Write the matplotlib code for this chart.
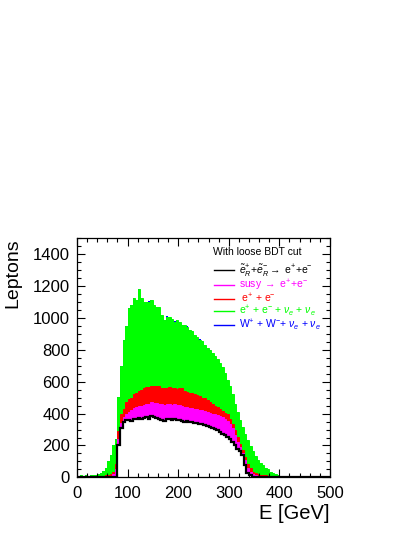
import numpy as np
import matplotlib
matplotlib.use('Agg')
import matplotlib.pyplot as plt
from matplotlib.lines import Line2D
from matplotlib.ticker import MultipleLocator

plt.rcParams['font.family'] = ['Liberation Sans', 'DejaVu Sans']
plt.rcParams['mathtext.fontset'] = 'custom'
plt.rcParams['mathtext.rm'] = 'Liberation Sans'
plt.rcParams['mathtext.it'] = 'Liberation Sans:italic'
plt.rcParams['mathtext.bf'] = 'Liberation Sans:bold'

# --- data: lepton energy, 5 GeV bins from 0 to 500 GeV ---
edges = np.arange(0, 505, 5)

signal = [0, 0, 0, 0, 0, 0, 0, 0, 0, 0,
          0, 0, 0, 0, 0, 0, 200, 310, 345, 358,
          362, 355, 365, 368, 372, 366, 370, 378, 366, 382,
          380, 372, 366, 362, 355, 366, 368, 362, 366, 360,
          362, 356, 350, 355, 345, 350, 342, 340, 336, 332,
          330, 320, 316, 310, 304, 294, 286, 274, 263, 252,
          242, 221, 201, 180, 168, 140, 78, 25, 14, 5,
          0, 0, 0, 0, 0, 0, 0, 0, 0, 0,
          0, 0, 0, 0, 0, 0, 0, 0, 0, 0,
          0, 0, 0, 0, 0, 0, 0, 0, 0, 0]

susy = [4, 4, 4, 4, 4, 4, 4, 4, 4, 4,
        5, 6, 8, 10, 20, 55, 40, 30, 35, 40,
        48, 65, 70, 72, 73, 84, 85, 82, 92, 88,
        88, 93, 96, 96, 100, 94, 94, 94, 92, 92,
        93, 92, 90, 87, 91, 88, 88, 88, 88, 90,
        88, 90, 90, 90, 92, 96, 98, 102, 102, 102,
        93, 89, 64, 41, 22, 15, 30, 31, 21, 16,
        12, 10, 8, 6, 4, 3, 2, 2, 1, 0,
        0, 0, 0, 0, 0, 0, 0, 0, 0, 0,
        0, 0, 0, 0, 0, 0, 0, 0, 0, 0]

ee = [4, 4, 4, 4, 4, 4, 4, 4, 4, 4,
      5, 6, 7, 10, 15, 30, 50, 55, 50, 72,
      80, 80, 85, 92, 95, 95, 104, 105, 109, 102,
      105, 110, 108, 102, 107, 103, 103, 102, 102, 103,
      107, 115, 100, 93, 96, 92, 95, 87, 84, 78,
      77, 75, 66, 60, 53, 50, 46, 42, 40, 41,
      31, 25, 29, 32, 21, 15, 20, 31, 21, 14,
      13, 12, 7, 8, 8, 6, 6, 4, 4, 3,
      2, 1, 0, 0, 0, 0, 0, 0, 0, 0,
      0, 0, 0, 0, 0, 0, 0, 0, 0, 0]

eevv = [2, 4, 2, 4, 3, 4, 5, 7, 12, 17,
        30, 48, 85, 120, 165, 155, 211, 305, 430, 476,
        570, 580, 602, 580, 640, 577, 538, 532, 534, 540,
        507, 495, 500, 458, 425, 445, 443, 432, 417, 430,
        413, 393, 416, 410, 393, 390, 369, 365, 355, 352,
        335, 325, 329, 320, 311, 299, 288, 272, 250, 215,
        207, 186, 165, 154, 149, 145, 145, 145, 139, 129,
        108, 86, 76, 62, 50, 41, 27, 19, 14, 9,
        6, 4, 4, 3, 2, 2, 1, 0, 0, 0,
        0, 0, 0, 0, 0, 0, 0, 0, 0, 0]

ww = [0, 0, 0, 0, 0, 0, 0, 0, 0, 0,
      0, 0, 0, 0, 1, 1, 2, 1, 2, 0,
      2, 1, 0, 2, 3, 0, 1, 0, 2, 0,
      1, 0, 0, 2, 0, 1, 0, 0, 1, 0,
      2, 0, 0, 1, 0, 0, 1, 0, 2, 0,
      0, 1, 0, 0, 1, 0, 0, 1, 0, 0,
      1, 0, 0, 0, 1, 0, 0, 0, 0, 0,
      0, 0, 0, 0, 0, 0, 0, 0, 0, 0,
      0, 0, 0, 0, 0, 0, 0, 0, 0, 0,
      0, 0, 0, 0, 0, 0, 0, 0, 0, 0]

labels = [r'$\tilde{e}_{R}^{+}$+$\tilde{e}_{R}^{-}$$\rightarrow$ e$^{+}$+e$^{-}$',
          r'susy $\rightarrow$ e$^{+}$+e$^{-}$',
          r' e$^{+}$ + e$^{-}$',
          r'e$^{+}$ + e$^{-}$ + $\nu_{e}$ + $\nu_{e}$',
          r'W$^{+}$ + W$^{-}$+ $\nu_{e}$ + $\nu_{e}$']
line_colors = ['black', '#ff00ff', '#ff0000', '#00ff00', '#0000ff']
fill_colors = ['white', '#ff00ff', '#ff0000', '#00ff00', '#0000ff']

# --- figure ---
fig = plt.figure(figsize=(4.15, 5.37), dpi=100)
ax = fig.add_axes([0.1855, 0.111, 0.6096, 0.4457])

# THStack style: draw each cumulative level from zero, top of stack first
samples = np.array([signal, susy, ee, eevv, ww], dtype=float)
stack = np.cumsum(samples, axis=0)
for i in reversed(range(len(stack))):
    lw = 0 if i == len(stack) - 1 else 0.7
    ax.stairs(stack[i], edges, fill=True, facecolor=fill_colors[i],
              edgecolor=fill_colors[i], linewidth=lw)
ax.stairs(signal, edges, color='black', linewidth=1.6)

ax.set_xlim(0, 500)
ax.set_ylim(0, 1500)
ax.xaxis.set_major_locator(MultipleLocator(100))
ax.xaxis.set_minor_locator(MultipleLocator(20))
ax.yaxis.set_major_locator(MultipleLocator(200))
ax.yaxis.set_minor_locator(MultipleLocator(50))
ax.tick_params(which='both', direction='in', top=True, right=True, labelsize=12, width=0.8)
ax.tick_params(axis='x', which='major', length=5.5, pad=6)
ax.tick_params(axis='x', which='minor', length=2.8)
ax.tick_params(axis='y', which='major', length=6, pad=5)
ax.tick_params(axis='y', which='minor', length=3)
for s in ax.spines.values():
    s.set_linewidth(0.9)

ax.set_xlabel('E [GeV]', loc='right', fontsize=14.5, labelpad=2)
ax.set_ylabel('Leptons', loc='top', fontsize=14, labelpad=8)

# legend (ROOT style: no frame, coloured entries)
ax.text(0.5375, 0.9415, 'With loose BDT cut', transform=ax.transAxes,
        fontsize=7.5, ha='left', va='center')
handles = [Line2D([], [], color=c, linewidth=1.0) for c in line_colors]
leg = ax.legend(handles, labels, loc='upper left', bbox_to_anchor=(0.505, 0.935),
                frameon=False, fontsize=7.5, labelcolor=line_colors,
                handlelength=1.9, handletextpad=0.5, labelspacing=-0.12,
                borderpad=0.4)

fig.savefig('out.png', dpi=100)
